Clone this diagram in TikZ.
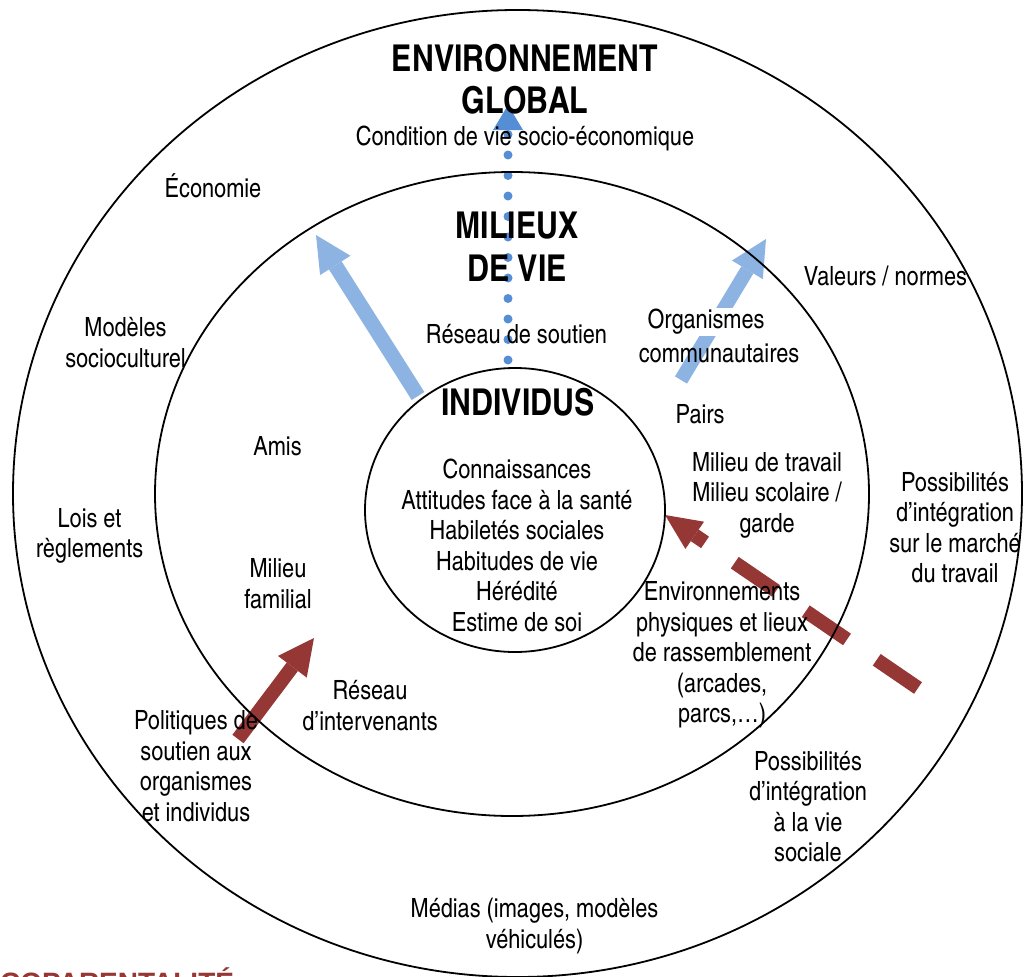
\documentclass[tikz,border=0pt]{standalone}
\usepackage{fontspec}
\setmainfont{texgyreheroscn}[Extension=.otf, UprightFont=*-regular, BoldFont=*-bold, ItalicFont=*-italic, BoldItalicFont=*-bolditalic]
\newfontfamily\capfont{Liberation Sans}
\usetikzlibrary{arrows.meta}
\definecolor{lblue}{RGB}{141,179,226}
\definecolor{dblue}{RGB}{85,142,213}
\definecolor{dred}{RGB}{149,55,53}
\tikzset{
  lbl/.style={inner sep=0pt, align=center, font=\fontsize{26.5}{30.6}\selectfont},
  ttl/.style={inner sep=0pt, align=center, font=\fontsize{37}{42.5}\selectfont\bfseries},
  ring/.style={draw=black, line width=1.8pt},
  fatarrow/.style={line width=15pt, -{Triangle[length=36pt,width=36pt,line width=0pt]}},
}
\begin{document}
\begin{tikzpicture}[x=1pt,y=-1pt]
\useasboundingbox (0,0) rectangle (1026,977);
% arrow end points
\coordinate (a1t) at (418,396); \coordinate (a1h) at (316,235);
\coordinate (a2t) at (681,380); \coordinate (a2h) at (766,239);
\coordinate (a3t) at (238,739); \coordinate (a3h) at (314,638);
\coordinate (a4t) at (918,688); \coordinate (a4h) at (665,515);
\coordinate (a5t) at (508,360); \coordinate (a5h) at (508,105);
% arrows
\draw[lblue, fatarrow] (a1t) -- (a1h);
\draw[lblue, fatarrow, line width=14pt] (a2t) -- (a2h);
\draw[dred, fatarrow, line width=14pt] (a3t) -- (a3h);
\draw[dred, line width=14pt, dash pattern=on 50pt off 36pt,
      -{Triangle[length=36pt,width=33pt,line width=0pt]}] (a4t) -- (a4h);
\draw[dblue, line width=9pt, line cap=round, dash pattern=on 0pt off 20.5pt,
      -{Triangle[length=25pt,width=30pt,line width=0pt]}] (a5t) -- (a5h);
% rings
\draw[ring] (517.5,493.5) ellipse [x radius=504.5pt, y radius=483.5pt];
\draw[ring] (512,494) ellipse [x radius=357pt, y radius=322pt];
\draw[ring] (515,510) ellipse [x radius=150pt, y radius=142pt];
% titles
\node[ttl] (envt) at (525,79) {ENVIRONNEMENT\\GLOBAL};
\node[ttl] (milt) at (517,246.5) {MILIEUX\\DE VIE};
\node[ttl] (indt) at (518,402) {INDIVIDUS};
% labels
\node[lbl] (cond) at (525,138) {Condition de vie socio-économique};
\node[lbl] (eco) at (213,186) {Économie};
\node[lbl] (val) at (885.5,276) {Valeurs / normes};
\node[lbl] (mod) at (125.5,342.5) {Modèles\\socioculturel};
\node[lbl] (soutien) at (516.5,334) {Réseau de soutien};
\node[lbl, fill=white, inner sep=1.5pt] (org) at (706,322) {Organismes};
\node[lbl] (comm) at (719,353) {communautaires};
\node[lbl] (pairs) at (700,414) {Pairs};
\node[lbl] (amis) at (277.5,446) {Amis};
\node[lbl] (indl) at (517,545.5) {Connaissances\\Attitudes face à la santé\\Habiletés sociales\\Habitudes de vie\\Hérédité\\Estime de soi};
\node[lbl] (trav) at (767,495) {Milieu de travail\\Milieu scolaire /\\garde};
\node[lbl] (march) at (955,527.5) {Possibilités\\d’intégration\\sur le marché\\du travail};
\node[lbl] (lois) at (89.5,536) {Lois et\\règlements};
\node[lbl] (fam) at (278,583.5) {Milieu\\familial};
\node[lbl] (envp) at (722,655) {Environnements\\physiques et lieux\\de rassemblement\\(arcades,\\parcs,…)};
\node[lbl] (inter) at (370,705.5) {Réseau\\d’intervenants};
\node[lbl] (pol) at (196,766) {Politiques de\\soutien aux\\organismes\\et individus};
\node[lbl] (soc) at (808,806.5) {Possibilités\\d’intégration\\à la vie\\sociale};
\node[lbl] (med) at (534.5,926) {Médias (images, modèles\\véhiculés)};
\node[anchor=base west, inner sep=0pt, text=dred, font=\capfont\fontsize{28}{32}\selectfont\bfseries] (copa) at (0,992) {COPARENTALITÉ};
\end{tikzpicture}
\end{document}
